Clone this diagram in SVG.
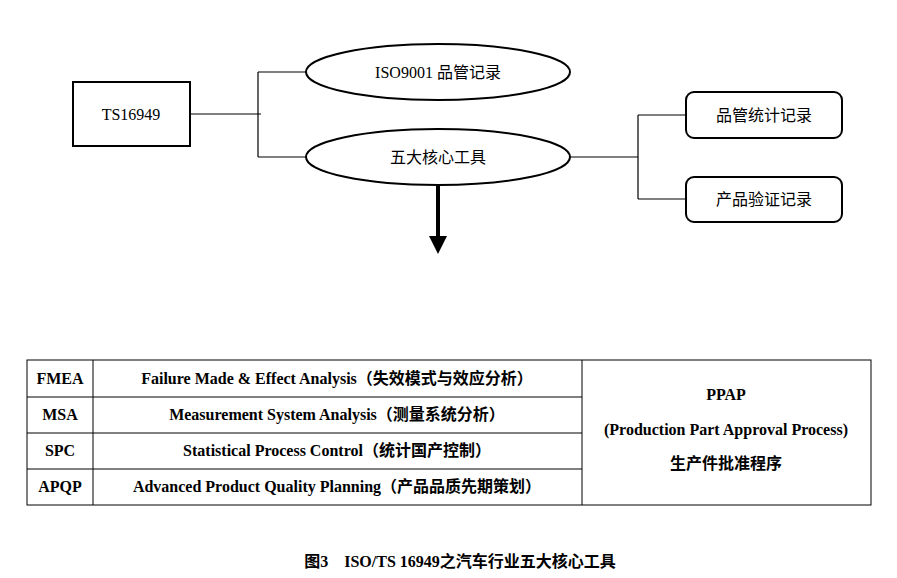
<svg xmlns="http://www.w3.org/2000/svg" width="897" height="578" viewBox="0 0 897 578">
<style>
.s{fill:#fff;stroke:#000;stroke-width:2}
.l{fill:none;stroke:#000;stroke-width:1.2}
text{font-family:"Liberation Serif","Noto Sans CJK SC",serif;font-size:16px;text-anchor:middle;fill:#000}
.b{font-weight:bold}
</style>
<rect width="897" height="578" fill="#fff"/>
<g id="connectors">
<path class="l" d="M190 114H261M258 72V157M258 72H306M258 157H306M570 157H638M638 115V199M638 115H686M638 199H686"/>
<line x1="438" y1="185" x2="438" y2="240" stroke="#000" stroke-width="4"/>
<polygon points="429,236 447,236 438,254" fill="#000"/>
</g>
<g id="ts"><rect class="s" x="73" y="82" width="117" height="64"/><text x="131" y="120">TS16949</text></g>
<g id="iso"><ellipse class="s" cx="438" cy="72" rx="132" ry="28"/><text x="438" y="78">ISO9001 品管记录</text></g>
<g id="five"><ellipse class="s" cx="438" cy="157" rx="132" ry="28"/><text x="438" y="163">五大核心工具</text></g>
<g id="r1"><rect class="s" x="686" y="92" width="156" height="46" rx="8"/><text x="764" y="121">品管统计记录</text></g>
<g id="r2"><rect class="s" x="686" y="177" width="156" height="45" rx="8"/><text x="764" y="205">产品验证记录</text></g>
<g id="table">
<rect x="27" y="360" width="844" height="145" fill="none" stroke="#000" stroke-width="1"/>
<path d="M93 360V505M582 360V505M27 397H582M27 433H582M27 469H582" stroke="#000" stroke-width="1" fill="none"/>
<g class="b" font-size="15">
<text x="60" y="384">FMEA</text><text x="337" y="384">Failure Made &amp; Effect Analysis（失效模式与效应分析）</text>
<text x="60" y="420">MSA</text><text x="337" y="420">Measurement System Analysis（测量系统分析）</text>
<text x="60" y="456">SPC</text><text x="337" y="456">Statistical Process Control（统计国产控制）</text>
<text x="60" y="492">APQP</text><text x="337" y="492">Advanced Product Quality Planning（产品品质先期策划）</text>
<text x="726" y="400">PPAP</text>
<text x="726" y="435">(Production Part Approval Process)</text>
<text x="726" y="469">生产件批准程序</text>
</g>
</g>
<text class="b" x="460" y="567" font-size="16">图3　ISO/TS 16949之汽车行业五大核心工具</text>
</svg>
